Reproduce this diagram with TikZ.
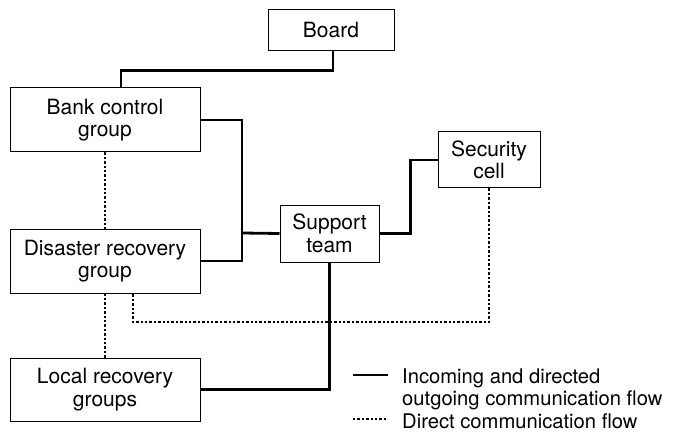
\documentclass[tikz,border=0pt]{standalone}
\usepackage{fontspec}
\setmainfont{TeX Gyre Heros}
\usetikzlibrary{calc}
\begin{document}
\begin{tikzpicture}[x=1pt,y=-1pt,
  box/.style={draw,line width=1pt,rectangle,align=center,inner sep=0pt,
    font=\fontsize{21}{22.5}\selectfont},
  flow/.style={line width=2.8pt,line join=miter},
  direct/.style={line width=2.6pt,dash pattern=on 2.4pt off 2pt},
  legtext/.style={anchor=base west,inner sep=0pt,font=\fontsize{20.2}{22}\selectfont}]
  \useasboundingbox (0,0) rectangle (675,433);

  % organisation units
  \node[box,minimum width=126pt,minimum height=41pt] (board) at (331,30.5) {Board};
  \node[box,minimum width=190pt,minimum height=64pt] (bank) at (105,120) {Bank control\\group};
  \node[box,minimum width=190pt,minimum height=64pt] (disaster) at (105,261) {Disaster recovery\\group};
  \node[box,minimum width=190pt,minimum height=63pt] (local) at (105,389.5) {Local recovery\\groups};
  \node[box,minimum width=99pt,minimum height=57pt] (support) at (329.5,233.5) {Support\\team};
  \node[box,minimum width=102pt,minimum height=56pt] (security) at (489,160) {Security\\cell};

  % junction points of the connectors
  \coordinate (trunk) at (242,233);
  \coordinate (dotcorner) at (133,322);

  % incoming and directed outgoing flow
  \draw[flow] ([xshift=2pt]board.south) -- ++(0,19) -| ([xshift=16pt]bank.north);
  \draw[flow] (bank.east) -| (trunk) |- (disaster.east);
  \draw[flow] (support.west) -- (trunk);
  \draw[flow] (support.east) -- ++(31,0) |- (security.west);
  \draw[flow] (local.east) -| (support.south);

  % direct flow
  \draw[direct] (bank.south) -- (disaster.north);
  \draw[direct] (disaster.south) -- (local.north);
  \draw[direct] (security.south) |- (dotcorner) -- (dotcorner |- disaster.south);

  % legend
  \coordinate (l1a) at (353,375);
  \coordinate (l1b) at (388,375);
  \coordinate (l2a) at (353,419);
  \coordinate (l2b) at (388,419);
  \draw[flow] (l1a) -- (l1b);
  \draw[direct] (l2a) -- (l2b);
  \node[legtext] (t1) at (402,383) {Incoming and directed};
  \node[legtext] (t2) at (402,405) {outgoing communication flow};
  \node[legtext] (t3) at (402,428) {Direct communication flow};
\end{tikzpicture}
\end{document}
